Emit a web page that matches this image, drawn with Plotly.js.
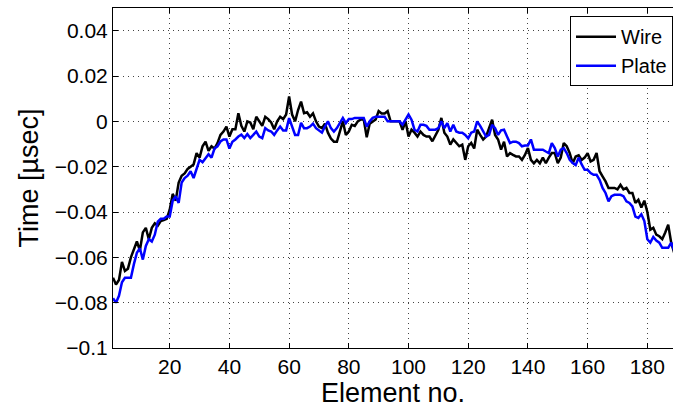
<!DOCTYPE html>
<html>
<head>
<meta charset="utf-8">
<script src="https://cdn.plot.ly/plotly-3.0.1.min.js"></script>
<style>html,body{margin:0;padding:0;background:#fff;}#chart{width:673px;height:408px;}</style>
</head>
<body>
<div id="chart"></div>
<script>
const wire = [
-0.069,-0.072,-0.070,-0.062,-0.066,-0.065,-0.060,-0.056,-0.053,-0.057,
-0.049,-0.047,-0.052,-0.047,-0.045,-0.046,-0.044,-0.0436,-0.043,-0.039,
-0.032,-0.035,-0.027,-0.024,-0.023,-0.021,-0.020,-0.019,-0.014,-0.016,
-0.011,-0.009,-0.013,-0.011,-0.012,-0.0096,-0.006,-0.0045,-0.0023,-0.0067,
-0.0035,-0.0035,0.0036,-0.002,-0.0045,0.000,-0.0005,-0.0035,0.002,-0.0003,
-0.002,0.002,0.001,-0.0005,-0.0035,0.000,0.002,0.001,0.003,0.011,
0.003,0.000,0.005,0.0087,0.0036,0.004,0.002,0.0035,0.000,-0.0023,
-0.003,-0.001,-0.005,-0.0076,-0.009,-0.009,-0.0045,0.000,-0.006,-0.0045,
-0.0015,-0.002,0.000,0.0008,0.0008,-0.007,-0.001,0.000,0.0008,0.0045,
0.0035,0.0035,0.0045,0.000,0.000,0.000,0.000,-0.0037,0.000,-0.0067,
-0.0037,-0.005,-0.0067,-0.0045,-0.006,-0.0067,-0.0067,-0.0088,-0.006,-0.0037,
0.0015,-0.005,-0.0067,-0.0103,-0.008,-0.0095,-0.011,-0.0103,-0.017,-0.011,
-0.0095,-0.012,-0.0037,-0.006,-0.008,-0.0067,-0.003,0.0007,-0.006,-0.008,
-0.0125,-0.009,-0.0155,-0.014,-0.0148,-0.0155,-0.0155,-0.017,-0.0148,-0.0118,
-0.017,-0.0185,-0.017,-0.0185,-0.016,-0.0185,-0.016,-0.014,-0.014,-0.0185,
-0.016,-0.0096,-0.011,-0.014,-0.0185,-0.0155,-0.015,-0.017,-0.016,-0.014,
-0.0177,-0.017,-0.014,-0.022,-0.0243,-0.0265,-0.0294,-0.0294,-0.0294,-0.030,
-0.028,-0.030,-0.0294,-0.0316,-0.0316,-0.036,-0.0346,-0.038,-0.035,-0.040,
-0.0478,-0.047,-0.050,-0.0507,-0.052,-0.049,-0.0456,-0.0535,-0.058
];
const plate = [
-0.078,-0.080,-0.077,-0.071,-0.069,-0.069,-0.069,-0.063,-0.058,-0.056,
-0.061,-0.055,-0.052,-0.053,-0.050,-0.0443,-0.043,-0.043,-0.042,-0.042,
-0.035,-0.033,-0.036,-0.027,-0.025,-0.024,-0.022,-0.025,-0.021,-0.017,
-0.018,-0.016,-0.0145,-0.016,-0.012,-0.011,-0.0089,-0.008,-0.008,-0.012,
-0.009,-0.008,-0.0067,-0.0059,-0.0074,-0.0056,-0.0074,-0.006,-0.0045,-0.0067,
-0.0074,-0.003,-0.004,-0.0045,-0.006,-0.004,-0.0023,-0.004,-0.004,0.0014,
-0.002,-0.006,-0.006,-0.0007,-0.003,-0.003,-0.0023,-0.001,-0.003,-0.004,
-0.005,-0.0023,0.000,-0.003,-0.0045,-0.003,-0.0008,0.0015,-0.0008,0.001,
0.001,0.0015,0.0015,0.0015,0.0015,-0.0023,0.000,0.0015,0.002,0.002,
0.002,0.002,0.000,0.000,0.000,0.000,0.000,-0.0015,0.0007,0.003,
0.0007,-0.0037,-0.0045,-0.0015,-0.0015,-0.002,-0.0037,-0.0037,-0.0037,-0.003,
0.000,-0.003,-0.0008,-0.0045,-0.0015,-0.0045,-0.005,-0.005,-0.006,-0.0075,
-0.005,-0.0045,0.000,-0.002,-0.0045,-0.0067,-0.006,-0.0015,-0.003,-0.006,
-0.004,-0.0037,-0.0067,-0.0096,-0.009,-0.009,-0.0096,-0.011,-0.0107,-0.0107,
-0.008,-0.0125,-0.0125,-0.0125,-0.0125,-0.0133,-0.014,-0.0096,-0.0118,-0.0155,
-0.0125,-0.0118,-0.014,-0.017,-0.0184,-0.0193,-0.016,-0.019,-0.0214,-0.0214,
-0.0228,-0.0236,-0.0236,-0.0258,-0.0294,-0.0316,-0.0353,-0.033,-0.0324,-0.0324,
-0.0324,-0.033,-0.0353,-0.036,-0.0375,-0.042,-0.0426,-0.041,-0.044,-0.052,
-0.0535,-0.051,-0.0526,-0.0535,-0.0558,-0.0558,-0.0558,-0.0535,-0.057
];
const elements = wire.map((_, i) => i + 1);
const xTickVals = [20, 40, 60, 80, 100, 120, 140, 160, 180];
const yTickVals = [-0.1, -0.08, -0.06, -0.04, -0.02, 0, 0.02, 0.04];
const yTickText = ['\u22120.1', '\u22120.08', '\u22120.06', '\u22120.04', '\u22120.02', '0', '0.02', '0.04'];

const traces = [
  {x: elements, y: wire, type: 'scatter', mode: 'lines', name: 'Wire',
   line: {color: '#000000', width: 2.5}},
  {x: elements, y: plate, type: 'scatter', mode: 'lines', name: 'Plate',
   line: {color: '#0000ff', width: 2.5}}
];
const fam = 'Liberation Sans, Arial, sans-serif';
const layout = {
  width: 673, height: 408,
  margin: {l: 113, r: 0, t: 8, b: 60},
  paper_bgcolor: '#fff', plot_bgcolor: '#fff',
  font: {family: fam, color: '#000'},
  showlegend: true,
  legend: {x: 1, y: 0.976, xanchor: 'right', yanchor: 'top',
           bgcolor: '#fff', bordercolor: '#000', borderwidth: 1,
           font: {family: fam, size: 20, color: '#000'},
           tracegroupgap: 0, itemwidth: 40},
  xaxis: {
    range: [1, 188.6], tickvals: xTickVals, ticks: 'inside', ticklen: 5,
    tickcolor: '#000', showline: true, linecolor: '#000', linewidth: 1,
    mirror: 'ticks', showgrid: true, gridcolor: '#444', griddash: '1px,4px', gridwidth: 1,
    zeroline: false, tickfont: {family: fam, size: 21, color: '#000'},
    title: {text: 'Element no.', font: {family: fam, size: 27, color: '#000'}, standoff: 0}
  },
  yaxis: {
    range: [-0.1, 0.05], tickvals: yTickVals, ticktext: yTickText, ticks: 'inside', ticklen: 5,
    tickcolor: '#000', showline: true, linecolor: '#000', linewidth: 1,
    mirror: false, showgrid: true, gridcolor: '#444', griddash: '1px,4px', gridwidth: 1,
    zeroline: false, tickfont: {family: fam, size: 21, color: '#000'},
    title: {text: 'Time [\u00b5sec]', font: {family: fam, size: 27, color: '#000'}, standoff: 8}
  }
};
Plotly.newPlot('chart', traces, layout, {staticPlot: true, displayModeBar: false});
</script>
</body>
</html>
